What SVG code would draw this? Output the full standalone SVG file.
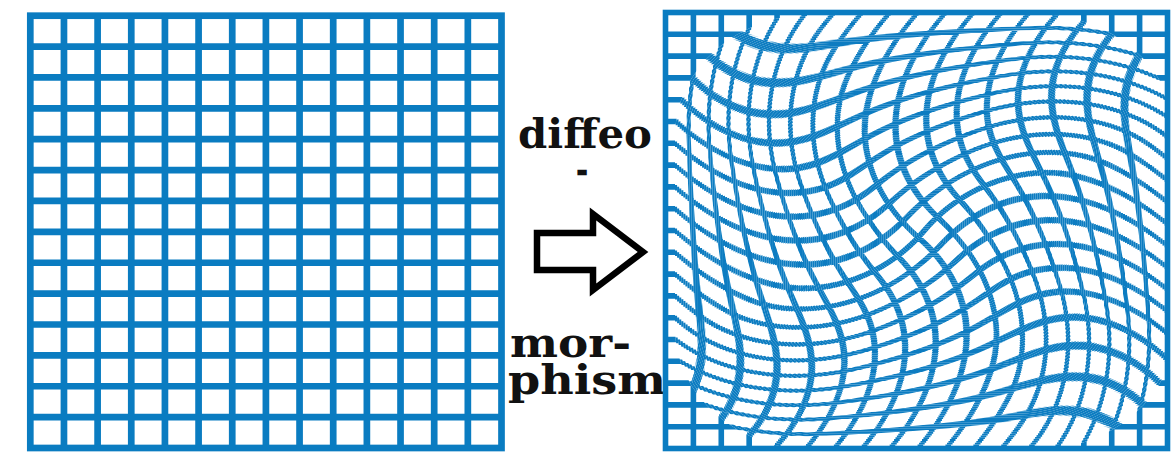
<svg xmlns="http://www.w3.org/2000/svg" width="1174" height="452" viewBox="0 0 1174 452">
  <style>
    .gridline { fill: none; stroke: #0a7cc1; }
    .orig { stroke-width: 6.7; }
    .warp { stroke-width: 5.6; }
    .ring { clip-path: url(#rr); }
    .lbl { font-family: "DejaVu Serif", "Liberation Serif", serif; font-weight: bold; font-size: 41px; fill: #111111; }
  </style>
  <defs>
    <g id="src">
      <rect x="-400" y="-400" width="800" height="800" fill="#ffffff"/>
      <path class="gridline warp" d="M-231.61,-360V360 M-203.72,-360V360 M-175.83,-360V360 M-147.94,-360V360 M-120.06,-360V360 M-92.17,-360V360 M-64.28,-360V360 M-36.39,-360V360 M-8.5,-360V360 M19.39,-360V360 M47.28,-360V360 M75.17,-360V360 M103.06,-360V360 M130.94,-360V360 M158.83,-360V360 M186.72,-360V360 M214.61,-360V360 M-360,-197.7H360 M-360,-175.9H360 M-360,-154.1H360 M-360,-132.3H360 M-360,-110.5H360 M-360,-88.7H360 M-360,-66.9H360 M-360,-45.1H360 M-360,-23.3H360 M-360,-1.5H360 M-360,20.3H360 M-360,42.1H360 M-360,63.9H360 M-360,85.7H360 M-360,107.5H360 M-360,129.3H360 M-360,151.1H360 M-360,172.9H360 M-360,194.7H360"/>
    </g>
    <clipPath id="rr">
      <rect x="-250" y="-218" width="500" height="436" rx="140" ry="122"/>
    </clipPath>
    <clipPath id="frameClip">
      <rect x="665.5" y="12.5" width="502" height="436"/>
    </clipPath>
    <filter id="soft" x="-0.05" y="-0.05" width="1.1" height="1.1">
      <feGaussianBlur stdDeviation="0.78"/>
    </filter>
  </defs>

  <rect x="0" y="0" width="1174" height="452" fill="#ffffff"/>

  <g id="grid-original">
    <rect class="gridline orig" x="30.3" y="15.7" width="471.2" height="432.3"/>
    <path class="gridline orig" d="M63.96,15.7V448 M97.61,15.7V448 M131.27,15.7V448 M164.93,15.7V448 M198.59,15.7V448 M232.24,15.7V448 M265.9,15.7V448 M299.56,15.7V448 M333.21,15.7V448 M366.87,15.7V448 M400.53,15.7V448 M434.19,15.7V448 M467.84,15.7V448 M30.3,46.58H501.5 M30.3,77.46H501.5 M30.3,108.34H501.5 M30.3,139.22H501.5 M30.3,170.09H501.5 M30.3,200.97H501.5 M30.3,231.85H501.5 M30.3,262.73H501.5 M30.3,293.61H501.5 M30.3,324.49H501.5 M30.3,355.37H501.5 M30.3,386.25H501.5 M30.3,417.12H501.5"/>
  </g>

  <g id="label">
    <text class="lbl"><tspan x="518" y="148" textLength="134" lengthAdjust="spacingAndGlyphs">diffeo</tspan></text>
    <text class="lbl" x="582" y="179" text-anchor="middle" style="font-size:22px" stroke="#111111" stroke-width="2.6">-</text>
    <text class="lbl"><tspan x="510" y="357" textLength="121" lengthAdjust="spacingAndGlyphs">mor-</tspan><tspan x="508" y="394" textLength="158" lengthAdjust="spacingAndGlyphs">phism</tspan></text>
  </g>

  <g id="connectors">
    <path d="M537,233 H593 V214 L643,252 L593,290 V270 H537 Z" fill="#ffffff" stroke="#000000" stroke-width="6.5" stroke-linejoin="miter"/>
  </g>

  <g id="grid-warped">
    <g clip-path="url(#frameClip)">
     <g filter="url(#soft)">
      <use href="#src" transform="translate(925 232)"/>
      <g class="ring" transform="translate(925 232)"><use href="#src" transform="rotate(-0.208)"/></g>
      <g class="ring" transform="translate(925 232) scale(.99167)"><use href="#src" transform="scale(1.0084) rotate(-0.625)"/></g>
      <g class="ring" transform="translate(925 232) scale(.98333)"><use href="#src" transform="scale(1.01695) rotate(-1.042)"/></g>
      <g class="ring" transform="translate(925 232) scale(.975)"><use href="#src" transform="scale(1.02564) rotate(-1.458)"/></g>
      <g class="ring" transform="translate(925 232) scale(.96667)"><use href="#src" transform="scale(1.03448) rotate(-1.875)"/></g>
      <g class="ring" transform="translate(925 232) scale(.95833)"><use href="#src" transform="scale(1.04348) rotate(-2.292)"/></g>
      <g class="ring" transform="translate(925 232) scale(.95)"><use href="#src" transform="scale(1.05263) rotate(-2.708)"/></g>
      <g class="ring" transform="translate(925 232) scale(.94167)"><use href="#src" transform="scale(1.06195) rotate(-3.125)"/></g>
      <g class="ring" transform="translate(925 232) scale(.93333)"><use href="#src" transform="scale(1.07143) rotate(-3.542)"/></g>
      <g class="ring" transform="translate(925 232) scale(.925)"><use href="#src" transform="scale(1.08108) rotate(-3.958)"/></g>
      <g class="ring" transform="translate(925 232) scale(.91667)"><use href="#src" transform="scale(1.09091) rotate(-4.375)"/></g>
      <g class="ring" transform="translate(925 232) scale(.90833)"><use href="#src" transform="scale(1.10092) rotate(-4.792)"/></g>
      <g class="ring" transform="translate(925 232) scale(.9)"><use href="#src" transform="scale(1.11111) rotate(-5.208)"/></g>
      <g class="ring" transform="translate(925 232) scale(.89167)"><use href="#src" transform="scale(1.1215) rotate(-5.625)"/></g>
      <g class="ring" transform="translate(925 232) scale(.88333)"><use href="#src" transform="scale(1.13208) rotate(-6.042)"/></g>
      <g class="ring" transform="translate(925 232) scale(.875)"><use href="#src" transform="scale(1.14286) rotate(-6.458)"/></g>
      <g class="ring" transform="translate(925 232) scale(.86667)"><use href="#src" transform="scale(1.15385) rotate(-6.875)"/></g>
      <g class="ring" transform="translate(925 232) scale(.85833)"><use href="#src" transform="scale(1.16505) rotate(-7.292)"/></g>
      <g class="ring" transform="translate(925 232) scale(.85)"><use href="#src" transform="scale(1.17647) rotate(-7.708)"/></g>
      <g class="ring" transform="translate(925 232) scale(.84167)"><use href="#src" transform="scale(1.18812) rotate(-8.125)"/></g>
      <g class="ring" transform="translate(925 232) scale(.83333)"><use href="#src" transform="scale(1.2) rotate(-8.542)"/></g>
      <g class="ring" transform="translate(925 232) scale(.825)"><use href="#src" transform="scale(1.21212) rotate(-8.958)"/></g>
      <g class="ring" transform="translate(925 232) scale(.81667)"><use href="#src" transform="scale(1.22449) rotate(-9.375)"/></g>
      <g class="ring" transform="translate(925 232) scale(.80833)"><use href="#src" transform="scale(1.23711) rotate(-9.792)"/></g>
      <g class="ring" transform="translate(925 232) scale(.8)"><use href="#src" transform="scale(1.25) rotate(-10.208)"/></g>
      <g class="ring" transform="translate(925 232) scale(.79167)"><use href="#src" transform="scale(1.26316) rotate(-10.625)"/></g>
      <g class="ring" transform="translate(925 232) scale(.78333)"><use href="#src" transform="scale(1.2766) rotate(-11.042)"/></g>
      <g class="ring" transform="translate(925 232) scale(.775)"><use href="#src" transform="scale(1.29032) rotate(-11.458)"/></g>
      <g class="ring" transform="translate(925 232) scale(.76667)"><use href="#src" transform="scale(1.30435) rotate(-11.875)"/></g>
      <g class="ring" transform="translate(925 232) scale(.75833)"><use href="#src" transform="scale(1.31868) rotate(-12.292)"/></g>
      <g class="ring" transform="translate(925 232) scale(.75)"><use href="#src" transform="scale(1.33333) rotate(-12.708)"/></g>
      <g class="ring" transform="translate(925 232) scale(.74167)"><use href="#src" transform="scale(1.34831) rotate(-13.125)"/></g>
      <g class="ring" transform="translate(925 232) scale(.73333)"><use href="#src" transform="scale(1.36364) rotate(-13.542)"/></g>
      <g class="ring" transform="translate(925 232) scale(.725)"><use href="#src" transform="scale(1.37931) rotate(-13.958)"/></g>
      <g class="ring" transform="translate(925 232) scale(.71667)"><use href="#src" transform="scale(1.39535) rotate(-14.375)"/></g>
      <g class="ring" transform="translate(925 232) scale(.70833)"><use href="#src" transform="scale(1.41176) rotate(-14.792)"/></g>
      <g class="ring" transform="translate(925 232) scale(.7)"><use href="#src" transform="scale(1.42857) rotate(-15.208)"/></g>
      <g class="ring" transform="translate(925 232) scale(.69167)"><use href="#src" transform="scale(1.44578) rotate(-15.625)"/></g>
      <g class="ring" transform="translate(925 232) scale(.68333)"><use href="#src" transform="scale(1.46341) rotate(-16.042)"/></g>
      <g class="ring" transform="translate(925 232) scale(.675)"><use href="#src" transform="scale(1.48148) rotate(-16.458)"/></g>
      <g class="ring" transform="translate(925 232) scale(.66667)"><use href="#src" transform="scale(1.5) rotate(-16.875)"/></g>
      <g class="ring" transform="translate(925 232) scale(.65833)"><use href="#src" transform="scale(1.51899) rotate(-17.292)"/></g>
      <g class="ring" transform="translate(925 232) scale(.65)"><use href="#src" transform="scale(1.53846) rotate(-17.708)"/></g>
      <g class="ring" transform="translate(925 232) scale(.64167)"><use href="#src" transform="scale(1.55844) rotate(-18.125)"/></g>
      <g class="ring" transform="translate(925 232) scale(.63333)"><use href="#src" transform="scale(1.57895) rotate(-18.542)"/></g>
      <g class="ring" transform="translate(925 232) scale(.625)"><use href="#src" transform="scale(1.6) rotate(-18.958)"/></g>
      <g class="ring" transform="translate(925 232) scale(.61667)"><use href="#src" transform="scale(1.62162) rotate(-19.375)"/></g>
      <g class="ring" transform="translate(925 232) scale(.60833)"><use href="#src" transform="scale(1.64384) rotate(-19.792)"/></g>
      <g class="ring" transform="translate(925 232) scale(.6)"><use href="#src" transform="scale(1.66667) rotate(-20.208)"/></g>
      <g class="ring" transform="translate(925 232) scale(.59167)"><use href="#src" transform="scale(1.69014) rotate(-20.625)"/></g>
      <g class="ring" transform="translate(925 232) scale(.58333)"><use href="#src" transform="scale(1.71429) rotate(-21.042)"/></g>
      <g class="ring" transform="translate(925 232) scale(.575)"><use href="#src" transform="scale(1.73913) rotate(-21.458)"/></g>
      <g class="ring" transform="translate(925 232) scale(.56667)"><use href="#src" transform="scale(1.76471) rotate(-21.875)"/></g>
      <g class="ring" transform="translate(925 232) scale(.55833)"><use href="#src" transform="scale(1.79104) rotate(-22.292)"/></g>
      <g class="ring" transform="translate(925 232) scale(.55)"><use href="#src" transform="scale(1.81818) rotate(-22.708)"/></g>
      <g class="ring" transform="translate(925 232) scale(.54167)"><use href="#src" transform="scale(1.84615) rotate(-23.125)"/></g>
      <g class="ring" transform="translate(925 232) scale(.53333)"><use href="#src" transform="scale(1.875) rotate(-23.542)"/></g>
      <g class="ring" transform="translate(925 232) scale(.525)"><use href="#src" transform="scale(1.90476) rotate(-23.958)"/></g>
      <g class="ring" transform="translate(925 232) scale(.51667)"><use href="#src" transform="scale(1.93548) rotate(-24.375)"/></g>
      <g class="ring" transform="translate(925 232) scale(.50833)"><use href="#src" transform="scale(1.96721) rotate(-24.792)"/></g>
      <g class="ring" transform="translate(925 232) scale(.5)"><use href="#src" transform="scale(2) rotate(-25.208)"/></g>
      <g class="ring" transform="translate(925 232) scale(.49167)"><use href="#src" transform="scale(2.0339) rotate(-25.625)"/></g>
      <g class="ring" transform="translate(925 232) scale(.48333)"><use href="#src" transform="scale(2.06897) rotate(-26.042)"/></g>
      <g class="ring" transform="translate(925 232) scale(.475)"><use href="#src" transform="scale(2.10526) rotate(-26.458)"/></g>
      <g class="ring" transform="translate(925 232) scale(.46667)"><use href="#src" transform="scale(2.14286) rotate(-26.875)"/></g>
      <g class="ring" transform="translate(925 232) scale(.45833)"><use href="#src" transform="scale(2.18182) rotate(-27.292)"/></g>
      <g class="ring" transform="translate(925 232) scale(.45)"><use href="#src" transform="scale(2.22222) rotate(-27.708)"/></g>
      <g class="ring" transform="translate(925 232) scale(.44167)"><use href="#src" transform="scale(2.26415) rotate(-28.125)"/></g>
      <g class="ring" transform="translate(925 232) scale(.43333)"><use href="#src" transform="scale(2.30769) rotate(-28.542)"/></g>
      <g class="ring" transform="translate(925 232) scale(.425)"><use href="#src" transform="scale(2.35294) rotate(-28.958)"/></g>
      <g class="ring" transform="translate(925 232) scale(.41667)"><use href="#src" transform="scale(2.4) rotate(-29.375)"/></g>
      <g class="ring" transform="translate(925 232) scale(.40833)"><use href="#src" transform="scale(2.44898) rotate(-29.792)"/></g>
      <g class="ring" transform="translate(925 232) scale(.4)"><use href="#src" transform="scale(2.5) rotate(-30.208)"/></g>
      <g class="ring" transform="translate(925 232) scale(.39167)"><use href="#src" transform="scale(2.55319) rotate(-30.625)"/></g>
      <g class="ring" transform="translate(925 232) scale(.38333)"><use href="#src" transform="scale(2.6087) rotate(-31.042)"/></g>
      <g class="ring" transform="translate(925 232) scale(.375)"><use href="#src" transform="scale(2.66667) rotate(-31.458)"/></g>
      <g class="ring" transform="translate(925 232) scale(.36667)"><use href="#src" transform="scale(2.72727) rotate(-31.875)"/></g>
      <g class="ring" transform="translate(925 232) scale(.35833)"><use href="#src" transform="scale(2.7907) rotate(-32.292)"/></g>
      <g class="ring" transform="translate(925 232) scale(.35)"><use href="#src" transform="scale(2.85714) rotate(-32.708)"/></g>
      <g class="ring" transform="translate(925 232) scale(.34167)"><use href="#src" transform="scale(2.92683) rotate(-33.125)"/></g>
      <g class="ring" transform="translate(925 232) scale(.33333)"><use href="#src" transform="scale(3) rotate(-33.542)"/></g>
      <g class="ring" transform="translate(925 232) scale(.325)"><use href="#src" transform="scale(3.07692) rotate(-33.958)"/></g>
      <g class="ring" transform="translate(925 232) scale(.31667)"><use href="#src" transform="scale(3.15789) rotate(-34.375)"/></g>
      <g class="ring" transform="translate(925 232) scale(.30833)"><use href="#src" transform="scale(3.24324) rotate(-34.792)"/></g>
      <g class="ring" transform="translate(925 232) scale(.3)"><use href="#src" transform="scale(3.33333) rotate(-35.208)"/></g>
      <g class="ring" transform="translate(925 232) scale(.29167)"><use href="#src" transform="scale(3.42857) rotate(-35.625)"/></g>
      <g class="ring" transform="translate(925 232) scale(.28333)"><use href="#src" transform="scale(3.52941) rotate(-36.042)"/></g>
      <g class="ring" transform="translate(925 232) scale(.275)"><use href="#src" transform="scale(3.63636) rotate(-36.458)"/></g>
      <g class="ring" transform="translate(925 232) scale(.26667)"><use href="#src" transform="scale(3.75) rotate(-36.875)"/></g>
      <g class="ring" transform="translate(925 232) scale(.25833)"><use href="#src" transform="scale(3.87097) rotate(-37.292)"/></g>
      <g class="ring" transform="translate(925 232) scale(.25)"><use href="#src" transform="scale(4) rotate(-37.708)"/></g>
      <g class="ring" transform="translate(925 232) scale(.24167)"><use href="#src" transform="scale(4.13793) rotate(-38.125)"/></g>
      <g class="ring" transform="translate(925 232) scale(.23333)"><use href="#src" transform="scale(4.28571) rotate(-38.542)"/></g>
      <g class="ring" transform="translate(925 232) scale(.225)"><use href="#src" transform="scale(4.44444) rotate(-38.958)"/></g>
      <g class="ring" transform="translate(925 232) scale(.21667)"><use href="#src" transform="scale(4.61538) rotate(-39.375)"/></g>
      <g class="ring" transform="translate(925 232) scale(.20833)"><use href="#src" transform="scale(4.8) rotate(-39.792)"/></g>
      <g class="ring" transform="translate(925 232) scale(.2)"><use href="#src" transform="scale(5) rotate(-40.208)"/></g>
      <g class="ring" transform="translate(925 232) scale(.19167)"><use href="#src" transform="scale(5.21739) rotate(-40.625)"/></g>
      <g class="ring" transform="translate(925 232) scale(.18333)"><use href="#src" transform="scale(5.45455) rotate(-41.042)"/></g>
      <g class="ring" transform="translate(925 232) scale(.175)"><use href="#src" transform="scale(5.71429) rotate(-41.458)"/></g>
      <g class="ring" transform="translate(925 232) scale(.16667)"><use href="#src" transform="scale(6) rotate(-41.875)"/></g>
      <g class="ring" transform="translate(925 232) scale(.15833)"><use href="#src" transform="scale(6.31579) rotate(-42.292)"/></g>
      <g class="ring" transform="translate(925 232) scale(.15)"><use href="#src" transform="scale(6.66667) rotate(-42.708)"/></g>
      <g class="ring" transform="translate(925 232) scale(.14167)"><use href="#src" transform="scale(7.05882) rotate(-43.125)"/></g>
      <g class="ring" transform="translate(925 232) scale(.13333)"><use href="#src" transform="scale(7.5) rotate(-43.542)"/></g>
      <g class="ring" transform="translate(925 232) scale(.125)"><use href="#src" transform="scale(8) rotate(-43.958)"/></g>
      <g class="ring" transform="translate(925 232) scale(.11667)"><use href="#src" transform="scale(8.57143) rotate(-44.375)"/></g>
      <g class="ring" transform="translate(925 232) scale(.10833)"><use href="#src" transform="scale(9.23077) rotate(-44.792)"/></g>
      <g class="ring" transform="translate(925 232) scale(.1)"><use href="#src" transform="scale(10) rotate(-45.208)"/></g>
      <g class="ring" transform="translate(925 232) scale(.09167)"><use href="#src" transform="scale(10.90909) rotate(-45.625)"/></g>
      <g class="ring" transform="translate(925 232) scale(.08333)"><use href="#src" transform="scale(12) rotate(-46.042)"/></g>
      <g class="ring" transform="translate(925 232) scale(.075)"><use href="#src" transform="scale(13.33333) rotate(-46.458)"/></g>
      <g class="ring" transform="translate(925 232) scale(.06667)"><use href="#src" transform="scale(15) rotate(-46.875)"/></g>
      <g class="ring" transform="translate(925 232) scale(.05833)"><use href="#src" transform="scale(17.14286) rotate(-47.292)"/></g>
      <g class="ring" transform="translate(925 232) scale(.05)"><use href="#src" transform="scale(20) rotate(-47.708)"/></g>
      <g class="ring" transform="translate(925 232) scale(.04167)"><use href="#src" transform="scale(24) rotate(-48.125)"/></g>
      <g class="ring" transform="translate(925 232) scale(.03333)"><use href="#src" transform="scale(30) rotate(-48.542)"/></g>
      <g class="ring" transform="translate(925 232) scale(.025)"><use href="#src" transform="scale(40) rotate(-48.958)"/></g>
      <g class="ring" transform="translate(925 232) scale(.01667)"><use href="#src" transform="scale(60) rotate(-49.375)"/></g>
      <g class="ring" transform="translate(925 232) scale(.00833)"><use href="#src" transform="scale(120) rotate(-49.792)"/></g>
     </g>
    </g>
    <rect class="gridline warp" x="665.5" y="12.5" width="502" height="436" stroke-width="5"/>
  </g>
</svg>
